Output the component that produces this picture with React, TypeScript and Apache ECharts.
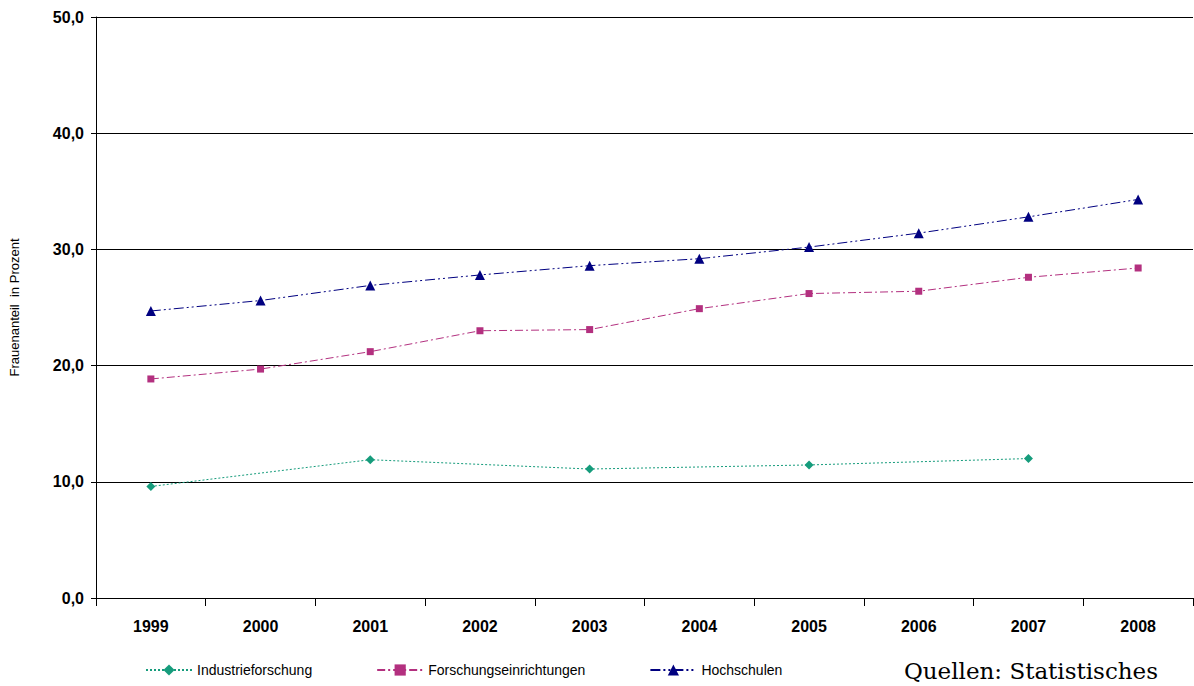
import React, { useEffect, useRef } from 'react'
import * as echarts from 'echarts'

const years = ['1999', '2000', '2001', '2002', '2003', '2004', '2005', '2006', '2007', '2008']
const industrie = [9.6, null, 11.9, null, 11.1, null, 11.45, null, 12.0, null]
const forschung = [18.85, 19.7, 21.2, 23.0, 23.1, 24.9, 26.2, 26.4, 27.6, 28.4]
const hochschulen = [24.7, 25.6, 26.9, 27.8, 28.6, 29.2, 30.2, 31.4, 32.8, 34.3]

const App = () => {
  const chartRef = useRef<HTMLDivElement>(null)

  useEffect(() => {
    if (!chartRef.current) return
    document.body.style.margin = '0'
    const myChart = echarts.init(chartRef.current, null, { renderer: 'svg' })
    myChart.setOption({
      animation: false,
      textStyle: { fontFamily: 'Liberation Sans, Arial, sans-serif' },
      grid: { left: 93, right: 1, top: 17, bottom: 88 },
      legend: {
        left: 140,
        bottom: 4,
        itemGap: 64,
        itemWidth: 46,
        textStyle: { fontSize: 14, color: '#000' },
      },
      graphic: [
        {
          type: 'text',
          right: 36,
          bottom: 4,
          style: { text: 'Quellen: Statistisches', fontFamily: 'DejaVu Serif, serif', fontSize: 23, fill: '#000' },
        },
      ],
      xAxis: {
        type: 'category',
        data: years,
        boundaryGap: true,
        axisLine: { lineStyle: { color: '#000' } },
        axisTick: { show: true, length: 8, lineStyle: { color: '#000' } },
        axisLabel: { color: '#000', fontWeight: 'bold', fontSize: 16, margin: 20 },
      },
      yAxis: {
        type: 'value',
        min: 0,
        max: 50,
        interval: 10,
        name: 'Frauenanteil  in Prozent',
        nameLocation: 'middle',
        nameGap: 75,
        nameTextStyle: { fontSize: 13, color: '#000' },
        axisLine: { show: true, lineStyle: { color: '#000' } },
        axisTick: { show: true, length: 5, lineStyle: { color: '#000' } },
        axisLabel: {
          color: '#000',
          fontWeight: 'bold',
          fontSize: 16,
          margin: 12,
          formatter: (v: number) => v.toFixed(1).replace('.', ','),
        },
        splitLine: { lineStyle: { color: '#000', width: 1 } },
      },
      series: [
        {
          name: 'Industrieforschung',
          type: 'line',
          data: industrie,
          connectNulls: true,
          symbol: 'diamond',
          symbolSize: 9,
          color: '#169c7c',
          lineStyle: { width: 1, type: [2, 2] },
        },
        {
          name: 'Forschungseinrichtungen',
          type: 'line',
          data: forschung,
          symbol: 'rect',
          symbolSize: 7,
          color: '#b3307f',
          lineStyle: { width: 1, type: [8, 3, 2, 3] },
        },
        {
          name: 'Hochschulen',
          type: 'line',
          data: hochschulen,
          symbol: 'triangle',
          symbolSize: 10,
          color: '#000080',
          lineStyle: { width: 1, type: [10, 3, 2, 3, 2, 3] },
        },
      ],
    })
    return () => {
      myChart.dispose()
    }
  }, [])

  return <div ref={chartRef} style={{ width: '1194px', height: '686px' }} />
}

export default App
